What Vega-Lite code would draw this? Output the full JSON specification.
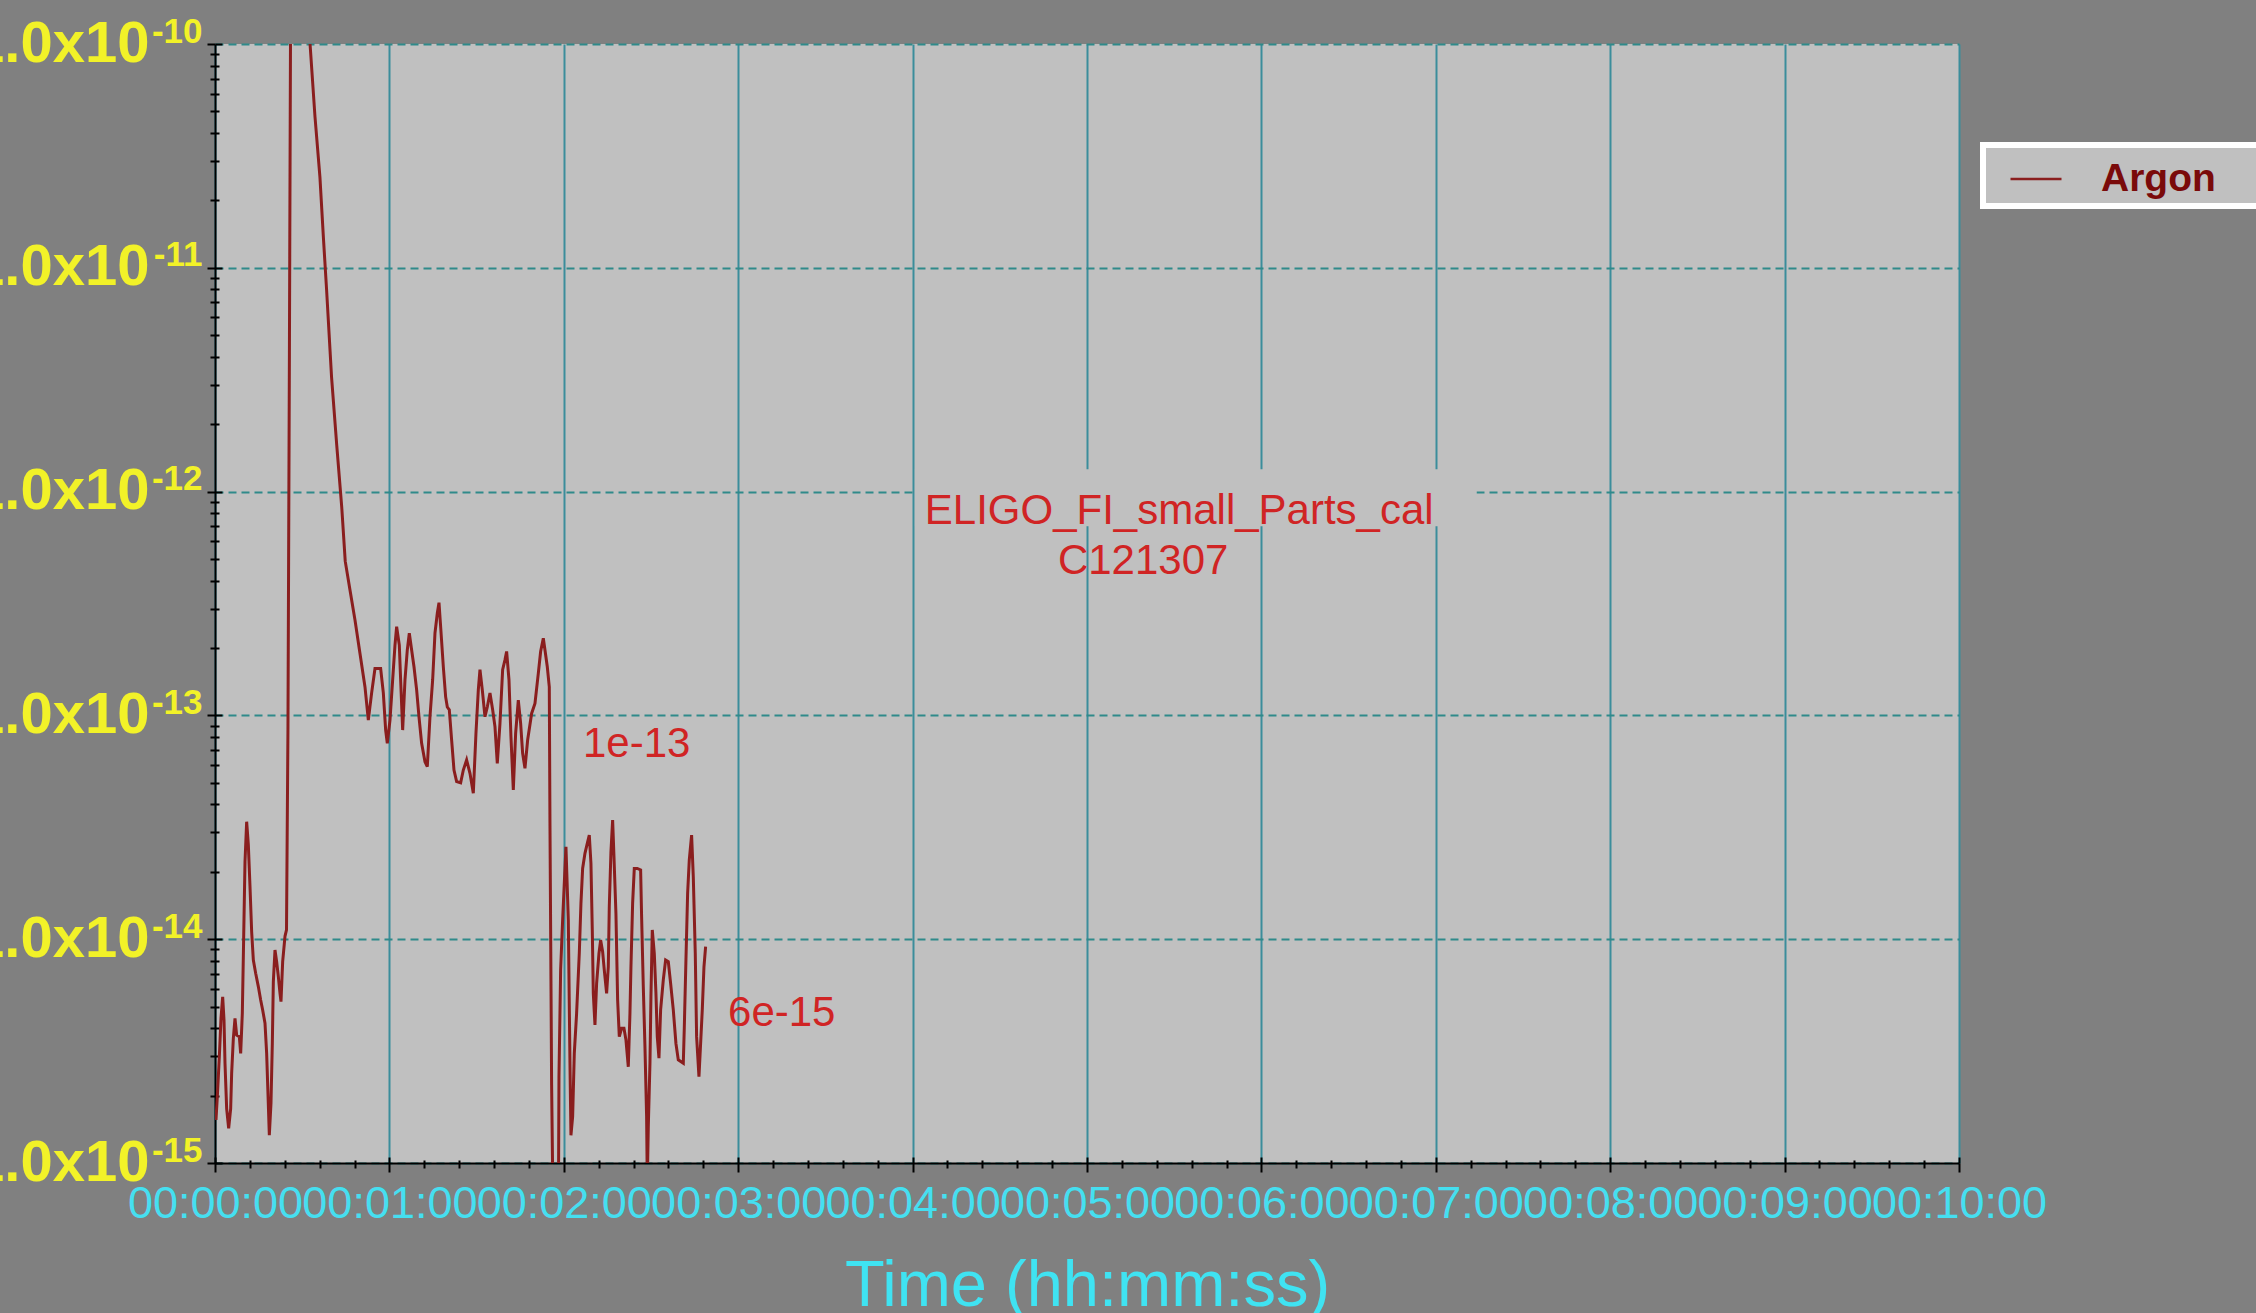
{
  "$schema": "https://vega.github.io/schema/vega-lite/v6.json",
  "width": 1744,
  "height": 1119,
  "autosize": {"type": "none"},
  "padding": {"left": 215, "top": 44, "right": 297, "bottom": 150},
  "background": "#808080",
  "config": {
    "view": {"fill": "#c0c0c0", "stroke": null},
    "font": "Liberation Sans"
  },
  "datasets": {
    "argon": [
      {"t": 0.34, "v": 1.556e-15}, {"t": 0.8, "v": 1.98e-15}, {"t": 1.49, "v": 2.99e-15}, {"t": 2.06, "v": 4.43e-15},
      {"t": 2.64, "v": 5.53e-15}, {"t": 3.1, "v": 4.35e-15}, {"t": 3.44, "v": 2.79e-15}, {"t": 4.01, "v": 1.75e-15},
      {"t": 4.7, "v": 1.43e-15}, {"t": 5.39, "v": 1.75e-15}, {"t": 5.73, "v": 2.52e-15}, {"t": 6.31, "v": 3.61e-15},
      {"t": 6.88, "v": 4.43e-15}, {"t": 7.45, "v": 3.73e-15}, {"t": 8.37, "v": 3.67e-15}, {"t": 8.83, "v": 3.09e-15},
      {"t": 9.4, "v": 4.67e-15}, {"t": 9.86, "v": 1.01e-14}, {"t": 10.32, "v": 2.22e-14}, {"t": 10.89, "v": 3.35e-14},
      {"t": 11.47, "v": 2.64e-14}, {"t": 12.04, "v": 1.72e-14}, {"t": 12.61, "v": 1.08e-14}, {"t": 13.19, "v": 8.07e-15},
      {"t": 13.99, "v": 7.04e-15}, {"t": 14.91, "v": 6.14e-15}, {"t": 15.71, "v": 5.35e-15}, {"t": 16.4, "v": 4.83e-15},
      {"t": 17.2, "v": 4.21e-15}, {"t": 17.77, "v": 3.09e-15}, {"t": 18.35, "v": 1.82e-15}, {"t": 18.69, "v": 1.33e-15},
      {"t": 19.26, "v": 1.85e-15}, {"t": 19.72, "v": 3.42e-15}, {"t": 20.07, "v": 6.46e-15}, {"t": 20.64, "v": 8.95e-15},
      {"t": 21.21, "v": 7.94e-15}, {"t": 21.79, "v": 6.8e-15}, {"t": 22.36, "v": 5.73e-15}, {"t": 22.7, "v": 5.26e-15},
      {"t": 23.28, "v": 7.94e-15}, {"t": 24.08, "v": 1.03e-14}, {"t": 24.6, "v": 1.1e-14}, {"t": 25.1, "v": 8.7e-14},
      {"t": 25.6, "v": 4.2e-12}, {"t": 26.0, "v": 1.3e-10}, {"t": 32.4, "v": 1.3e-10}, {"t": 32.7, "v": 1.0e-10},
      {"t": 34.4, "v": 4.73e-11}, {"t": 36.1, "v": 2.54e-11}, {"t": 37.3, "v": 1.36e-11}, {"t": 38.4, "v": 7.94e-12},
      {"t": 40.1, "v": 3.25e-12}, {"t": 41.9, "v": 1.6e-12}, {"t": 43.6, "v": 8.53e-13}, {"t": 44.8, "v": 4.89e-13},
      {"t": 46.44, "v": 3.63e-13}, {"t": 48.16, "v": 2.67e-13}, {"t": 49.88, "v": 1.89e-13}, {"t": 51.6, "v": 1.34e-13},
      {"t": 52.75, "v": 9.53e-14}, {"t": 53.89, "v": 1.26e-13}, {"t": 55.04, "v": 1.62e-13}, {"t": 56.99, "v": 1.62e-13},
      {"t": 57.91, "v": 1.26e-13}, {"t": 58.71, "v": 8.6e-14}, {"t": 59.28, "v": 7.5e-14}, {"t": 60.2, "v": 9.53e-14},
      {"t": 61.12, "v": 1.44e-13}, {"t": 61.92, "v": 2.06e-13}, {"t": 62.49, "v": 2.49e-13}, {"t": 63.41, "v": 2.06e-13},
      {"t": 63.87, "v": 1.44e-13}, {"t": 64.56, "v": 8.6e-14}, {"t": 65.36, "v": 1.44e-13}, {"t": 66.16, "v": 1.96e-13},
      {"t": 66.85, "v": 2.33e-13}, {"t": 67.65, "v": 1.96e-13}, {"t": 68.46, "v": 1.65e-13}, {"t": 69.37, "v": 1.3e-13},
      {"t": 70.18, "v": 9.86e-14}, {"t": 71.09, "v": 7.5e-14}, {"t": 72.24, "v": 6.21e-14}, {"t": 73.04, "v": 5.9e-14},
      {"t": 73.96, "v": 9.86e-14}, {"t": 74.88, "v": 1.44e-13}, {"t": 75.68, "v": 2.33e-13}, {"t": 76.48, "v": 2.86e-13},
      {"t": 77.06, "v": 3.19e-13}, {"t": 77.63, "v": 2.49e-13}, {"t": 78.55, "v": 1.65e-13}, {"t": 79.35, "v": 1.21e-13},
      {"t": 79.92, "v": 1.09e-13}, {"t": 80.61, "v": 1.06e-13}, {"t": 81.41, "v": 7.76e-14}, {"t": 82.22, "v": 5.7e-14},
      {"t": 83.13, "v": 5.06e-14}, {"t": 84.51, "v": 5.0e-14}, {"t": 85.43, "v": 5.7e-14}, {"t": 86.57, "v": 6.32e-14},
      {"t": 87.72, "v": 5.51e-14}, {"t": 88.87, "v": 4.49e-14}, {"t": 89.78, "v": 8.32e-14}, {"t": 90.59, "v": 1.3e-13},
      {"t": 91.16, "v": 1.6e-13}, {"t": 91.96, "v": 1.3e-13}, {"t": 92.88, "v": 9.86e-14}, {"t": 93.68, "v": 1.09e-13},
      {"t": 94.6, "v": 1.26e-13}, {"t": 95.52, "v": 1.06e-13}, {"t": 96.32, "v": 8.91e-14}, {"t": 97.12, "v": 6.11e-14},
      {"t": 98.04, "v": 9.22e-14}, {"t": 98.96, "v": 1.6e-13}, {"t": 99.76, "v": 1.77e-13}, {"t": 100.33, "v": 1.93e-13},
      {"t": 101.14, "v": 1.44e-13}, {"t": 101.82, "v": 8.03e-14}, {"t": 102.63, "v": 4.65e-14}, {"t": 103.43, "v": 8.32e-14},
      {"t": 104.35, "v": 1.17e-13}, {"t": 105.15, "v": 9.22e-14}, {"t": 105.84, "v": 6.77e-14}, {"t": 106.64, "v": 5.8e-14},
      {"t": 107.56, "v": 7.76e-14}, {"t": 108.93, "v": 1.02e-13}, {"t": 110.08, "v": 1.13e-13}, {"t": 111.23, "v": 1.54e-13},
      {"t": 112.03, "v": 1.93e-13}, {"t": 112.95, "v": 2.21e-13}, {"t": 113.52, "v": 1.96e-13}, {"t": 114.32, "v": 1.65e-13},
      {"t": 115.01, "v": 1.34e-13}, {"t": 115.24, "v": 3.3e-14}, {"t": 115.81, "v": 2.23e-15}, {"t": 116.39, "v": 5e-16},
      {"t": 118.11, "v": 5e-16}, {"t": 118.34, "v": 2.43e-15}, {"t": 118.91, "v": 7.28e-15}, {"t": 119.6, "v": 1.22e-14},
      {"t": 120.74, "v": 2.59e-14}, {"t": 121.55, "v": 1.22e-14}, {"t": 122.12, "v": 2.79e-15}, {"t": 122.46, "v": 1.33e-15},
      {"t": 123.04, "v": 1.61e-15}, {"t": 123.61, "v": 3.09e-15}, {"t": 124.41, "v": 4.67e-15}, {"t": 125.33, "v": 8.65e-15},
      {"t": 125.9, "v": 1.45e-14}, {"t": 126.48, "v": 2.07e-14}, {"t": 127.28, "v": 2.42e-14}, {"t": 128.08, "v": 2.68e-14},
      {"t": 128.77, "v": 2.92e-14}, {"t": 129.34, "v": 2.18e-14}, {"t": 129.8, "v": 1.1e-14}, {"t": 130.15, "v": 5.73e-15},
      {"t": 130.72, "v": 4.14e-15}, {"t": 131.29, "v": 6.35e-15}, {"t": 132.1, "v": 8.65e-15}, {"t": 132.67, "v": 9.91e-15},
      {"t": 133.36, "v": 8.79e-15}, {"t": 133.93, "v": 7.28e-15}, {"t": 134.73, "v": 5.73e-15}, {"t": 135.31, "v": 7.53e-15},
      {"t": 135.65, "v": 1.4e-14}, {"t": 136.22, "v": 2.46e-14}, {"t": 136.8, "v": 3.41e-14}, {"t": 137.26, "v": 2.34e-14},
      {"t": 137.94, "v": 1.3e-14}, {"t": 138.52, "v": 5.35e-15}, {"t": 139.09, "v": 3.67e-15}, {"t": 139.89, "v": 4.0e-15},
      {"t": 140.7, "v": 4.0e-15}, {"t": 141.38, "v": 3.55e-15}, {"t": 142.19, "v": 2.69e-15}, {"t": 142.76, "v": 4.67e-15},
      {"t": 143.1, "v": 7.53e-15}, {"t": 143.68, "v": 1.45e-14}, {"t": 144.25, "v": 2.07e-14}, {"t": 145.28, "v": 2.07e-14},
      {"t": 146.43, "v": 2.04e-14}, {"t": 146.77, "v": 1.26e-14}, {"t": 147.35, "v": 6.14e-15}, {"t": 147.92, "v": 3.31e-15},
      {"t": 148.49, "v": 1.61e-15}, {"t": 148.72, "v": 8e-16}, {"t": 149.07, "v": 1.45e-15}, {"t": 149.64, "v": 2.79e-15},
      {"t": 149.98, "v": 5.53e-15}, {"t": 150.44, "v": 1.1e-14}, {"t": 151.13, "v": 8.65e-15}, {"t": 151.7, "v": 5.73e-15},
      {"t": 152.16, "v": 3.67e-15}, {"t": 152.74, "v": 2.94e-15}, {"t": 153.31, "v": 4.83e-15}, {"t": 154.23, "v": 6.58e-15},
      {"t": 155.03, "v": 8.07e-15}, {"t": 155.95, "v": 7.94e-15}, {"t": 156.75, "v": 6.35e-15}, {"t": 157.67, "v": 4.83e-15},
      {"t": 158.58, "v": 3.42e-15}, {"t": 159.39, "v": 2.89e-15}, {"t": 161.11, "v": 2.79e-15}, {"t": 161.45, "v": 4.0e-15},
      {"t": 162.02, "v": 8.07e-15}, {"t": 162.6, "v": 1.6e-14}, {"t": 163.17, "v": 2.26e-14}, {"t": 163.97, "v": 2.92e-14},
      {"t": 164.55, "v": 1.9e-14}, {"t": 165.23, "v": 8.65e-15}, {"t": 165.69, "v": 3.67e-15}, {"t": 166.5, "v": 2.43e-15},
      {"t": 167.07, "v": 3.42e-15}, {"t": 167.64, "v": 4.83e-15}, {"t": 168.22, "v": 7.53e-15}, {"t": 168.79, "v": 9.27e-15}
    ],
    "notes": [
      {"t": 244.2, "v": 8.18e-13, "label": "ELIGO_FI_small_Parts_cal"},
      {"t": 290.0, "v": 4.9e-13, "label": "C121307"},
      {"t": 126.6, "v": 7.45e-14, "label": "1e-13"},
      {"t": 176.5, "v": 4.68e-15, "label": "6e-15"}
    ],
    "box": [
      {"t": 240.8, "t2": 434.0, "v": 7.0e-13, "v2": 1.26e-12}
    ]
  },
  "resolve": {"axis": {"x": "independent", "y": "independent"}},
  "layer": [
    {
      "data": {"name": "box"},
      "mark": {"type": "rect", "color": "#c0c0c0"},
      "encoding": {
        "x": {
          "field": "t",
          "type": "quantitative",
          "scale": {"domain": [0, 600], "nice": false, "zero": false},
          "axis": {
            "orient": "bottom",
            "values": [0, 12, 24, 36, 48, 60, 72, 84, 96, 108, 120, 132, 144, 156, 168, 180, 192, 204, 216, 228, 240, 252, 264, 276, 288, 300, 312, 324, 336, 348, 360, 372, 384, 396, 408, 420, 432, 444, 456, 468, 480, 492, 504, 516, 528, 540, 552, 564, 576, 588, 600],
            "labels": false,
            "domain": false,
            "grid": false,
            "tickColor": "black",
            "tickWidth": 2,
            "tickSize": {"condition": {"test": "datum.value % 60 == 0", "value": -6}, "value": -3},
            "title": null
          }
        },
        "x2": {"field": "t2"},
        "y": {
          "field": "v",
          "type": "quantitative",
          "scale": {"type": "log", "domain": [1e-15, 1e-10], "nice": false},
          "axis": null
        },
        "y2": {"field": "v2"}
      }
    },
    {
      "data": {"name": "argon"},
      "mark": {"type": "line", "clip": true, "strokeWidth": 3},
      "encoding": {
        "x": {
          "field": "t",
          "type": "quantitative",
          "scale": {"domain": [0, 600], "nice": false, "zero": false},
          "axis": {
            "orient": "bottom",
            "values": [0, 12, 24, 36, 48, 60, 72, 84, 96, 108, 120, 132, 144, 156, 168, 180, 192, 204, 216, 228, 240, 252, 264, 276, 288, 300, 312, 324, 336, 348, 360, 372, 384, 396, 408, 420, 432, 444, 456, 468, 480, 492, 504, 516, 528, 540, 552, 564, 576, 588, 600],
            "labelExpr": "datum.value % 60 == 0 ? '00:' + (datum.value < 600 ? '0' : '') + (datum.value / 60) + ':00' : ''",
            "labelFont": "Liberation Sans",
            "labelFontSize": 45,
            "labelColor": "#45dff0",
            "labelPadding": 9,
            "labelFlush": false,
            "labelOverlap": false,
            "labelLimit": 0,
            "tickColor": "black",
            "tickWidth": 2,
            "tickSize": {"condition": {"test": "datum.value % 60 == 0", "value": 9}, "value": 5},
            "domainColor": "black",
            "domainWidth": 2,
            "grid": true,
            "gridColor": "#3b8d9b",
            "gridWidth": 2,
            "gridOpacity": {"condition": {"test": "datum.value % 60 == 0", "value": 1}, "value": 0},
            "title": "Time (hh:mm:ss)",
            "titleFont": "Liberation Sans",
            "titleFontSize": 65,
            "titleFontWeight": "normal",
            "titleColor": "#3fe3f2",
            "titlePadding": 28
          }
        },
        "y": {
          "field": "v",
          "type": "quantitative",
          "scale": {"type": "log", "domain": [1e-15, 1e-10], "nice": false},
          "axis": {
            "orient": "left",
            "values": [1e-15, 2e-15, 3e-15, 4e-15, 5e-15, 6e-15, 7e-15, 8e-15, 9e-15, 1e-14, 2e-14, 3e-14, 4e-14, 5e-14, 6e-14, 7e-14, 8e-14, 9e-14, 1e-13, 2e-13, 3e-13, 4e-13, 5e-13, 6e-13, 7e-13, 8e-13, 9e-13, 1e-12, 2e-12, 3e-12, 4e-12, 5e-12, 6e-12, 7e-12, 8e-12, 9e-12, 1e-11, 2e-11, 3e-11, 4e-11, 5e-11, 6e-11, 7e-11, 8e-11, 9e-11, 1e-10],
            "labelExpr": "(datum.value == 1e-10 || datum.value == 1e-11 || datum.value == 1e-12 || datum.value == 1e-13 || datum.value == 1e-14 || datum.value == 1e-15) ? '1.0x10' : ''",
            "labelFont": "Liberation Sans",
            "labelFontSize": 58,
            "labelFontWeight": "bold",
            "labelColor": "#f2f228",
            "labelPadding": 58,
            "labelOverlap": false,
            "labelLimit": 0,
            "tickColor": "black",
            "tickWidth": 2,
            "tickSize": {"condition": {"test": "abs(log(datum.value)/LN10 - round(log(datum.value)/LN10)) < 0.001", "value": 8}, "value": 5},
            "domainColor": "black",
            "domainWidth": 2,
            "grid": true,
            "gridColor": "#2f8a8a",
            "gridWidth": 2,
            "gridDash": [8, 5],
            "gridOpacity": {"condition": {"test": "abs(log(datum.value)/LN10 - round(log(datum.value)/LN10)) < 0.001", "value": 1}, "value": 0},
            "title": null
          }
        },
        "color": {
          "datum": "Argon",
          "scale": {"range": ["#8a1e1e"]},
          "legend": {
            "orient": "none",
            "legendX": 1768,
            "legendY": 101,
            "title": null,
            "symbolType": "stroke",
            "symbolSize": 2600,
            "symbolStrokeWidth": 2.5,
            "symbolStrokeColor": "#8a1e1e",
            "symbolOffset": 19,
            "labelFont": "Liberation Sans",
            "labelFontSize": 39,
            "labelFontWeight": "bold",
            "labelColor": "#7a0a0a",
            "labelOffset": 38,
            "labelLimit": 0,
            "labelExpr": "datum.label + '\u00a0\u00a0\u00a0\u00a0\u00a0\u00a0\u200b'",
            "padding": 7,
            "fillColor": "#c0c0c0",
            "strokeColor": "white",
            "encode": {"legend": {"update": {"strokeWidth": {"value": 6}}}}
          }
        }
      }
    },
    {
      "data": {"name": "notes"},
      "mark": {"type": "text", "align": "left", "baseline": "middle", "font": "Liberation Sans", "fontSize": 42, "color": "#d02424"},
      "encoding": {
        "x": {
          "field": "t",
          "type": "quantitative",
          "scale": {"domain": [0, 600], "nice": false, "zero": false},
          "axis": null
        },
        "y": {
          "field": "v",
          "type": "quantitative",
          "scale": {"type": "log", "domain": [1e-15, 1e-10], "nice": false},
          "axis": {
            "orient": "left",
            "values": [1e-15, 2e-15, 3e-15, 4e-15, 5e-15, 6e-15, 7e-15, 8e-15, 9e-15, 1e-14, 2e-14, 3e-14, 4e-14, 5e-14, 6e-14, 7e-14, 8e-14, 9e-14, 1e-13, 2e-13, 3e-13, 4e-13, 5e-13, 6e-13, 7e-13, 8e-13, 9e-13, 1e-12, 2e-12, 3e-12, 4e-12, 5e-12, 6e-12, 7e-12, 8e-12, 9e-12, 1e-11, 2e-11, 3e-11, 4e-11, 5e-11, 6e-11, 7e-11, 8e-11, 9e-11, 1e-10],
            "labelExpr": "datum.value == 1e-10 ? '-10' : datum.value == 1e-11 ? '-11' : datum.value == 1e-12 ? '-12' : datum.value == 1e-13 ? '-13' : datum.value == 1e-14 ? '-14' : datum.value == 1e-15 ? '-15' : ''",
            "labelFont": "Liberation Sans",
            "labelFontSize": 35,
            "labelFontWeight": "bold",
            "labelColor": "#f2f228",
            "labelBaseline": "alphabetic",
            "labelOffset": -2,
            "labelPadding": 20,
            "labelOverlap": false,
            "labelLimit": 0,
            "domain": false,
            "grid": false,
            "tickColor": "black",
            "tickWidth": 2,
            "tickSize": {"condition": {"test": "abs(log(datum.value)/LN10 - round(log(datum.value)/LN10)) < 0.001", "value": -7}, "value": -4},
            "title": null
          }
        },
        "text": {"field": "label"}
      }
    }
  ]
}
